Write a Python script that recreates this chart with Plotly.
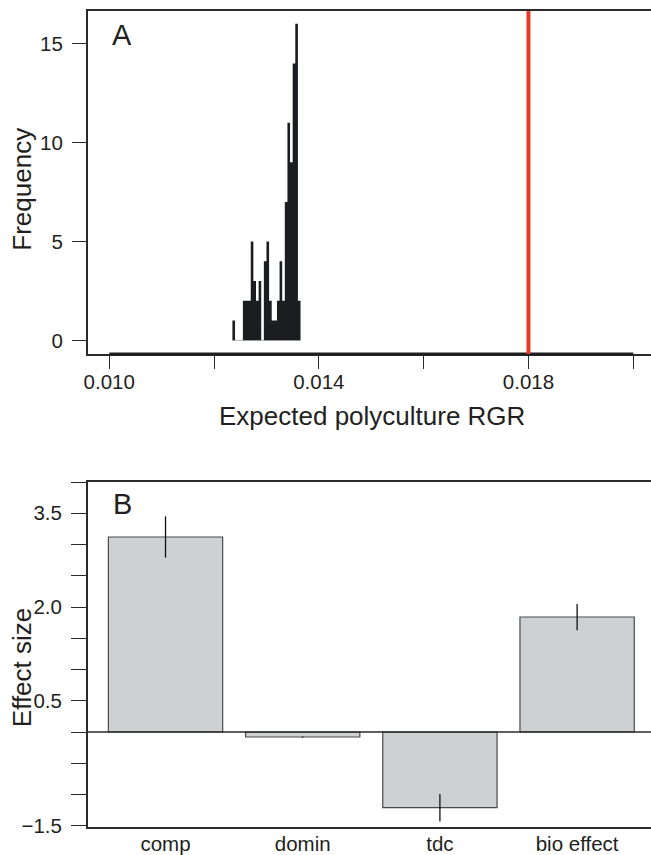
import plotly.graph_objects as go

# ---------------- Data ----------------
# Panel A: histogram of expected polyculture RGR (100 simulations)
bin_edges = [0.01235, 0.01240, 0.01245, 0.01250, 0.01255, 0.01260, 0.01265,
             0.01270, 0.01275, 0.01280, 0.01285, 0.01290, 0.01295, 0.01300,
             0.01305, 0.01310, 0.01315, 0.01320, 0.01325, 0.01330, 0.01335,
             0.01340, 0.01345, 0.01350, 0.01355, 0.01360, 0.01365]
counts = [1, 0, 0, 0, 2, 2, 2, 5, 3, 2, 3, 0, 4, 5, 2, 1, 1, 2, 4, 2, 7,
          11, 9, 14, 16, 2]
observed_rgr = 0.018

xa_tickvals = [0.010, 0.012, 0.014, 0.016, 0.018, 0.020]
xa_ticktext = ["0.010", "", "0.014", "", "0.018", ""]
ya_tickvals = [0, 5, 10, 15]

# Panel B: effect sizes
categories = ["comp", "domin", "tdc", "bio effect"]
effects = [3.12, -0.08, -1.21, 1.84]
errors = [0.33, 0.01, 0.22, 0.21]

yb_tickvals = [-1.5, -1.0, -0.5, 0.0, 0.5, 1.0, 1.5, 2.0, 2.5, 3.0, 3.5, 4.0]
yb_ticktext = ["\u22121.5", "", "", "", "0.5", "", "", "2.0", "", "", "3.5", ""]

# ---------------- Figure ----------------
W, H = 651, 855
ML, MR, MT, MB = 88, 0, 11, 28
PW, PH = W - ML - MR, H - MT - MB

def px_x(px):
    return (px - ML) / PW

def px_y(py):
    return min(1.0, max(0.0, (H - MB - py) / PH))

def px_y_free(py):
    return (H - MB - py) / PH

FONT = "Liberation Sans, Arial, Helvetica, sans-serif"
TXT = "#231f20"
AX = "#2b2b2b"
TICKF = 20.5

fig = go.Figure()

# histogram drawn as a filled step outline (bins are contiguous)
step_x = list(bin_edges)
step_y = list(counts) + [counts[-1]]
fig.add_trace(go.Scatter(
    x=step_x, y=step_y, mode="lines", line=dict(shape="hv", width=0, color="#1c1d21"),
    fill="tozeroy", fillcolor="#1c1d21",
    xaxis="x", yaxis="y", showlegend=False, hoverinfo="skip",
))

fig.add_trace(go.Bar(
    x=categories, y=effects,
    error_y=dict(type="data", array=errors, width=0, thickness=1.3, color="#111111"),
    marker=dict(color="#cfd0d2", line=dict(color="#4a4a4a", width=1.2)),
    xaxis="x2", yaxis="y2", showlegend=False,
))

domA = [px_y(354), px_y(11)]
domB = [px_y(827), px_y(482)]

fig.update_layout(
    width=W, height=H,
    margin=dict(l=ML, r=MR, t=MT, b=MB),
    paper_bgcolor="white", plot_bgcolor="white",
    font=dict(family=FONT, color=TXT, size=20),
    bargap=0.167,
    xaxis=dict(
        domain=[0, 1], anchor="y",
        range=[0.009594, 0.009594 + PW / 52.4 * 0.001],
        tickvals=xa_tickvals, ticktext=xa_ticktext,
        ticks="outside", ticklen=13, tickwidth=1.2, tickcolor=AX,
        showline=True, linecolor=AX, linewidth=1.5, mirror=True,
        showgrid=False, zeroline=False, automargin=False,
        tickfont=dict(size=TICKF, color=TXT), ticklabelstandoff=-4,
    ),
    yaxis=dict(
        domain=domA, anchor="x",
        range=[-0.69, 16.65],
        tickvals=ya_tickvals,
        ticks="outside", ticklen=14, tickwidth=1.2, tickcolor=AX,
        showline=True, linecolor=AX, linewidth=2, mirror=False,
        showgrid=False, zeroline=False, automargin=False,
        tickfont=dict(size=TICKF, color=TXT), ticklabelstandoff=5,
    ),
    xaxis2=dict(
        domain=[0, 1], anchor="y2",
        range=[-0.565, -0.565 + PW / 137.2],
        ticks="", showline=True, linecolor=AX, linewidth=1.5, mirror=True,
        showgrid=False, zeroline=False, automargin=False,
        tickfont=dict(size=TICKF, color=TXT), ticklabelstandoff=-2,
    ),
    yaxis2=dict(
        domain=domB, anchor="x2",
        range=[-1.52, 4.0],
        tickvals=yb_tickvals, ticktext=yb_ticktext,
        ticks="outside", ticklen=15, tickwidth=1.2, tickcolor=AX,
        showline=True, linecolor=AX, linewidth=2, mirror=False,
        showgrid=False, zeroline=False, automargin=False,
        tickfont=dict(size=TICKF, color=TXT), ticklabelstandoff=5,
    ),
)

shapes = [
    dict(type="line", xref="x", yref="y", x0=bin_edges[0], x1=bin_edges[-1],
         y0=0, y1=0, line=dict(color="#b5b5b5", width=1), layer="below"),
    dict(type="line", xref="x", yref="y domain", x0=xa_tickvals[0], x1=xa_tickvals[-1],
         y0=0, y1=0, line=dict(color="#1e1e1e", width=3)),
    dict(type="line", xref="x", yref="y domain", x0=observed_rgr, x1=observed_rgr,
         y0=0, y1=1, line=dict(color="#e63a2a", width=4)),
    dict(type="line", xref="x2 domain", yref="y2", x0=0, x1=1, y0=0, y1=0,
         line=dict(color="#2a2a2a", width=1.5)),
]
fig.update_layout(shapes=shapes)

annotations = [
    dict(text="Frequency", x=px_x(21.7), y=px_y_free(189), xref="paper", yref="paper",
         textangle=-90, showarrow=False, xanchor="center", yanchor="middle",
         font=dict(size=26, color=TXT)),
    dict(text="Expected polyculture RGR", x=px_x(372), y=px_y_free(416), xref="paper", yref="paper",
         showarrow=False, xanchor="center", yanchor="middle",
         font=dict(size=26, color=TXT)),
    dict(text="A", x=px_x(109.5), y=px_y_free(34.5), xref="paper", yref="paper",
         showarrow=False, xanchor="left", yanchor="middle",
         font=dict(size=29, color=TXT)),
    dict(text="Effect size", x=px_x(21.7), y=px_y_free(667.5), xref="paper", yref="paper",
         textangle=-90, showarrow=False, xanchor="center", yanchor="middle",
         font=dict(size=26, color=TXT)),
    dict(text="B", x=px_x(110.5), y=px_y_free(504.5), xref="paper", yref="paper",
         showarrow=False, xanchor="left", yanchor="middle",
         font=dict(size=29, color=TXT)),
]
fig.update_layout(annotations=annotations)

fig.write_html(
    "out.html",
    config={"displayModeBar": False},
    post_script="document.body.style.margin='0';document.body.style.overflow='hidden';",
)
